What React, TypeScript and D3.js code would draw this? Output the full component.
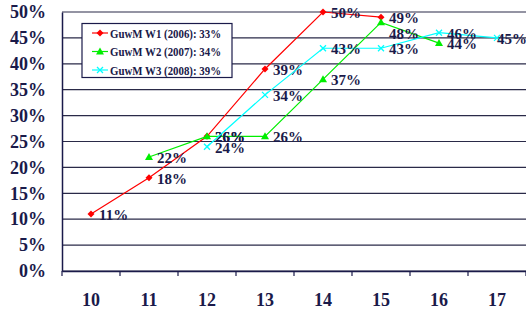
import { useEffect, useRef } from "react";
import * as d3 from "d3";

const categories = ["10", "11", "12", "13", "14", "15", "16", "17"];
const yTicks = [0, 5, 10, 15, 20, 25, 30, 35, 40, 45, 50];

const w1Cats = ["10", "11", "12", "13", "14", "15"];
const w1Values = [11, 18, 26, 39, 50, 49];
const w2Cats = ["11", "12", "13", "14", "15", "16"];
const w2Values = [22, 26, 26, 37, 48, 44];
const w3Cats = ["12", "13", "14", "15", "16", "17"];
const w3Values = [24, 34, 43, 43, 46, 45];

const seriesNames = ["GuwM W1 (2006): 33%", "GuwM W2 (2007): 34%", "GuwM W3 (2008): 39%"];

function App() {
  const ref = useRef<SVGSVGElement>(null);

  useEffect(() => {
    const width = 526;
    const height = 314;
    const margin = { top: 12, right: 0, bottom: 43, left: 62 };
    const ink = "#1a1a4a";
    const font = "'Liberation Serif', 'Times New Roman', serif";

    const svg = d3.select(ref.current);
    svg.selectAll("*").remove();
    svg.attr("width", width).attr("height", height);

    const x = d3.scaleBand()
      .domain(categories)
      .range([margin.left, width - margin.right]);

    const y = d3.scaleLinear()
      .domain([0, 50])
      .range([height - margin.bottom, margin.top]);

    // gridlines
    svg.append("g")
      .selectAll("line")
      .data(yTicks)
      .join("line")
      .attr("x1", margin.left)
      .attr("x2", width - margin.right)
      .attr("y1", d => y(d))
      .attr("y2", d => y(d))
      .attr("stroke", "#2a2a48")
      .attr("stroke-width", 1.2);

    // y axis
    const yAxis = svg.append("g")
      .attr("transform", `translate(${margin.left},0)`)
      .call(d3.axisLeft(y).tickValues(yTicks).tickSize(0).tickPadding(16).tickFormat(d => `${d}%`));
    yAxis.select(".domain").attr("stroke", ink).attr("stroke-width", 1.5);
    yAxis.selectAll("text")
      .attr("fill", ink)
      .style("font-family", font)
      .style("font-size", "18px")
      .style("font-weight", "bold");

    // x axis
    const xAxis = svg.append("g")
      .attr("transform", `translate(0,${height - margin.bottom})`)
      .call(d3.axisBottom(x).tickSize(0).tickPadding(22));
    xAxis.select(".domain").attr("stroke", ink).attr("stroke-width", 1.5);
    xAxis.selectAll("text")
      .attr("fill", ink)
      .style("font-family", font)
      .style("font-size", "18px")
      .style("font-weight", "bold");
    // tick marks between categories
    svg.append("g")
      .selectAll("line")
      .data(categories.concat(["end"]))
      .join("line")
      .attr("x1", (d, i) => margin.left + i * x.bandwidth())
      .attr("x2", (d, i) => margin.left + i * x.bandwidth())
      .attr("y1", y(0))
      .attr("y2", y(0) + 5)
      .attr("stroke", ink)
      .attr("stroke-width", 1.2);

    const series = [
      { name: seriesNames[0], cats: w1Cats, values: w1Values, color: "#ff0000", marker: "diamond" },
      { name: seriesNames[1], cats: w2Cats, values: w2Values, color: "#00ee00", marker: "triangle" },
      { name: seriesNames[2], cats: w3Cats, values: w3Values, color: "#00ffff", marker: "x" },
    ];

    // label nudges where the original moved labels to avoid clashes
    const nudge: Record<string, [number, number]> = {
      "1-4": [0, 11],
      "2-5": [-8, 0],
    };

    const line = d3.line<[string, number]>()
      .x(d => x(d[0])! + x.bandwidth() / 2)
      .y(d => y(d[1]));

    const drawMarker = (g: any, type: string, color: string, cx: number, cy: number) => {
      if (type === "diamond") {
        g.append("path")
          .attr("d", `M${cx},${cy - 3.5}L${cx + 3.5},${cy}L${cx},${cy + 3.5}L${cx - 3.5},${cy}Z`)
          .attr("fill", color);
      } else if (type === "triangle") {
        g.append("path")
          .attr("d", `M${cx},${cy - 4}L${cx + 4},${cy + 3}L${cx - 4},${cy + 3}Z`)
          .attr("fill", color);
      } else {
        g.append("path")
          .attr("d", `M${cx - 3},${cy - 3}L${cx + 3},${cy + 3}M${cx - 3},${cy + 3}L${cx + 3},${cy - 3}`)
          .attr("stroke", color)
          .attr("stroke-width", 1.3);
      }
    };

    series.forEach((s, si) => {
      const pts = s.cats.map((c, i) => [c, s.values[i]] as [string, number]);
      const g = svg.append("g");
      g.append("path")
        .attr("d", line(pts))
        .attr("fill", "none")
        .attr("stroke", s.color)
        .attr("stroke-width", 1.2);
      pts.forEach((p) => {
        const cx = x(p[0])! + x.bandwidth() / 2;
        const cy = y(p[1]);
        drawMarker(g, s.marker, s.color, cx, cy);
      });
      pts.forEach((p, i) => {
        const cx = x(p[0])! + x.bandwidth() / 2;
        const cy = y(p[1]);
        const [dx, dy] = nudge[`${si}-${i}`] || [0, 0];
        svg.append("text")
          .attr("x", cx + 8 + dx)
          .attr("y", cy + 6 + dy)
          .attr("fill", ink)
          .style("font-family", font)
          .style("font-size", "15px")
          .style("font-weight", "bold")
          .text(`${p[1]}%`);
      });
    });

    // legend
    const legend = svg.append("g");
    legend.append("rect")
      .attr("x", 82)
      .attr("y", 23.5)
      .attr("width", 150)
      .attr("height", 54)
      .attr("fill", "white")
      .attr("stroke", ink)
      .attr("stroke-width", 1.2);
    series.forEach((s, i) => {
      const ly = 33 + i * 18.5;
      legend.append("line")
        .attr("x1", 92)
        .attr("x2", 108)
        .attr("y1", ly)
        .attr("y2", ly)
        .attr("stroke", s.color)
        .attr("stroke-width", 1.2);
      drawMarker(legend, s.marker, s.color, 100, ly);
      legend.append("text")
        .attr("x", 110)
        .attr("y", ly + 4.5)
        .attr("fill", ink)
        .attr("textLength", 111)
        .attr("lengthAdjust", "spacingAndGlyphs")
        .style("font-family", font)
        .style("font-size", "12.5px")
        .style("font-weight", "bold")
        .text(s.name);
    });
  }, []);

  return <svg ref={ref} style={{ position: "absolute", left: 0, top: 0, background: "white" }}></svg>;
}

export default App;
